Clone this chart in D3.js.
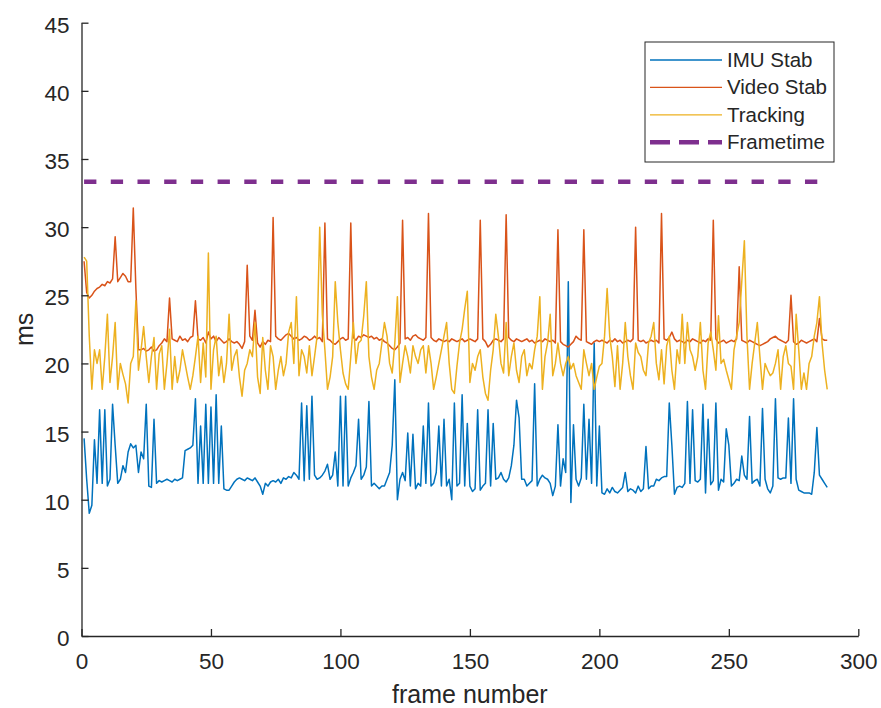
<!DOCTYPE html>
<html>
<head>
<meta charset="utf-8">
<script src="https://cdn.jsdelivr.net/npm/d3@7/dist/d3.min.js"></script>
<style>
  body { margin: 0; background: #fff; }
  #chart { width: 881px; height: 708px; }
  text { font-family: "Liberation Sans", Arial, Helvetica, sans-serif; fill: #262626; }
</style>
</head>
<body>
<div id="chart"></div>
<script>
// frame times per processing step (ms)
var imuStab = [
  14.5, 11.5, 9.0, 9.6, 14.4, 11.2, 16.6, 11.2, 16.6, 11.0,
  11.5, 17.0, 14.0, 11.2, 11.5, 12.5, 12.0, 13.5, 14.1, 13.8,
  14.0, 12.0, 13.5, 13.0, 17.0, 11.0, 10.9, 15.9, 11.2, 11.4,
  11.3, 11.4, 11.5, 11.4, 11.3, 11.5, 11.4, 11.5, 11.6, 13.6,
  13.7, 13.8, 14.0, 17.4, 11.2, 15.4, 11.2, 17.0, 11.2, 16.8,
  11.2, 17.7, 11.2, 15.4, 10.8, 10.7, 10.7, 11.0, 11.3, 11.5,
  11.6, 11.5, 11.4, 11.6, 11.5, 11.4, 11.6, 11.3, 11.0, 10.4,
  11.2, 11.0, 11.3, 11.4, 11.3, 11.5, 11.2, 11.6, 11.5, 11.7,
  11.6, 12.0, 11.8, 11.5, 17.1, 11.4, 16.9, 11.5, 17.6, 11.8,
  11.5, 11.6, 11.8, 12.1, 12.6, 11.5, 11.8, 13.5, 11.0, 17.6,
  11.0, 17.6, 11.0, 11.6, 12.0, 12.5, 15.9, 11.5, 11.8, 12.4,
  17.2, 11.0, 11.2, 11.0, 10.8, 11.0, 11.0, 11.5, 12.0, 14.0,
  18.8, 10.0, 11.5, 12.0, 11.4, 14.9, 11.0, 14.8, 10.8, 11.2,
  11.0, 15.4, 11.2, 17.1, 11.0, 11.2, 12.0, 15.4, 11.0, 15.9,
  11.0, 11.5, 10.0, 17.1, 11.0, 11.2, 17.7, 11.0, 15.6, 11.0,
  10.6, 10.8, 16.6, 10.7, 11.0, 11.2, 16.6, 11.0, 15.6, 11.5,
  11.6, 12.0, 11.5, 11.3, 11.6, 12.5, 14.0, 17.3, 16.0, 11.5,
  11.5, 11.0, 11.2, 11.4, 18.5, 11.0, 11.5, 11.8, 11.6, 11.5,
  11.2, 10.3, 11.0, 15.5, 11.0, 13.0, 12.0, 26.0, 9.8, 15.5,
  11.5, 11.0, 11.6, 17.0, 11.5, 15.9, 11.2, 21.5, 11.0, 15.4,
  10.5, 10.4, 10.8, 10.5, 10.9, 10.6, 10.5, 10.7, 10.9, 12.0,
  10.6, 10.8, 10.7, 10.5, 11.0, 10.6, 10.8, 13.9, 10.8, 11.0,
  11.0, 11.5, 11.4, 11.6, 11.7, 11.7, 17.1, 14.0, 10.4, 10.9,
  11.0, 10.9, 11.2, 17.2, 11.2, 16.6, 11.4, 11.3, 11.5, 17.0,
  10.5, 15.9, 11.1, 11.4, 17.1, 10.7, 11.5, 11.3, 15.2, 14.0,
  11.0, 11.2, 11.5, 11.4, 13.2, 11.8, 11.5, 16.1, 11.2, 11.4,
  11.5, 11.0, 16.7, 11.5, 10.8, 10.5, 11.0, 17.4, 11.6, 11.5,
  11.6, 11.6, 16.0, 11.2, 17.4, 11.5, 10.7, 10.6, 10.5, 10.5,
  10.5, 10.4, 12.0, 15.3, 11.8, 11.5, 11.2, 10.9
];

var videoStab = [
  27.5, 25.2, 24.8, 25.0, 25.3, 25.5, 25.6, 25.8, 25.7, 26.0,
  25.9, 26.2, 29.3, 26.0, 26.3, 26.6, 26.4, 26.0, 26.0, 31.4,
  25.5, 21.0, 21.0, 21.1, 20.9, 21.0, 21.2, 20.9, 21.0, 21.3,
  21.5, 21.8, 21.6, 24.8, 21.8, 21.7, 21.6, 22.0, 21.7, 21.8,
  21.6, 21.9, 22.0, 24.6, 21.8, 21.7, 21.9, 21.5, 22.3, 21.8,
  22.0, 21.6, 21.9, 21.7, 21.5, 21.6, 21.8, 21.6, 21.5, 21.6,
  21.4, 21.1, 21.6, 27.2, 22.0, 21.7, 23.9, 21.5, 21.2, 21.6,
  21.4, 21.7, 21.6, 30.7, 22.0, 21.8, 21.7, 21.9, 22.1, 22.2,
  22.0, 21.8, 21.9, 21.7, 21.8, 22.0, 21.9, 21.7, 21.8, 22.0,
  21.8, 21.9, 21.6, 30.3, 21.8, 21.7, 21.5, 21.4, 21.6, 21.8,
  21.9, 21.7, 21.8, 30.3, 21.9, 21.7, 22.0, 21.9, 22.1, 22.0,
  21.9, 22.0, 21.8, 21.9, 21.7, 21.8, 21.6, 21.5, 21.3, 21.1,
  21.0, 21.2, 21.5, 30.5, 21.8, 21.9, 21.7, 22.0, 22.1, 21.9,
  21.8, 21.7, 21.9, 31.0, 21.9, 21.7, 21.6, 21.8, 21.7, 21.6,
  21.7, 21.6, 21.8, 21.7, 21.6, 21.7, 21.8, 21.6, 21.7, 21.8,
  21.7, 21.6, 21.8, 30.5, 21.8, 21.6, 21.2, 21.4, 21.7, 21.8,
  21.7, 21.6, 21.8, 30.9, 21.9, 21.7, 21.6, 21.8, 21.7, 21.6,
  21.7, 21.8, 21.6, 21.7, 21.5, 21.6, 21.7, 21.6, 21.8, 21.7,
  21.6, 21.7, 21.5, 29.8, 21.6, 21.4, 21.3, 21.2, 21.4, 21.6,
  22.0, 21.8, 21.7, 29.8, 21.6, 21.5, 21.4, 21.6, 21.7, 21.6,
  21.7, 21.6, 21.5, 21.7, 21.6, 21.8, 21.6, 21.7, 21.5, 21.6,
  21.7, 21.6, 21.8, 30.0, 21.7, 21.6, 21.7, 21.5, 21.6, 21.7,
  21.6, 21.7, 21.5, 31.0, 21.8, 21.7, 21.9, 22.3, 21.8, 21.6,
  21.7, 21.6, 21.5, 21.7, 21.6, 21.8, 21.7, 21.6, 21.5, 21.7,
  21.6, 21.8, 21.7, 30.5, 21.8, 21.5, 21.6, 21.7, 21.5, 21.6,
  21.7, 21.6, 21.8, 27.1, 21.7, 21.6, 21.5, 21.7, 21.6, 21.5,
  21.4, 21.3, 21.4, 21.5, 21.6, 21.8, 21.9, 22.0, 21.8, 21.7,
  21.6, 21.5, 21.7, 25.0, 21.6, 21.4, 21.5, 21.7, 21.6, 21.5,
  21.6, 21.7, 21.8, 21.6, 23.3, 21.8, 21.7, 21.7
];

var tracking = [
  27.8, 27.5, 22.0, 18.1, 21.0, 20.0, 21.0, 18.1, 20.5, 23.6,
  18.6, 20.5, 23.0, 18.1, 20.0, 19.2, 18.5, 17.1, 20.0, 20.5,
  24.6, 19.5, 21.0, 22.7, 20.5, 18.6, 20.5, 21.9, 18.1, 20.7,
  21.3, 18.1, 20.0, 22.5, 18.1, 20.5, 18.6, 19.5, 21.0, 20.0,
  19.0, 18.1, 19.1, 20.5, 22.0, 18.6, 21.5, 19.0, 28.1, 18.1,
  21.0, 22.0, 19.1, 20.5, 18.6, 20.0, 23.6, 19.5, 20.5, 21.0,
  19.0, 17.6, 19.5, 20.0, 21.0, 20.5, 23.0, 19.0, 17.8, 21.9,
  19.5, 18.1, 21.3, 20.5, 18.1, 19.5, 20.5, 19.1, 20.0, 22.3,
  23.0, 20.0, 24.9, 19.1, 21.0, 20.5, 19.3, 21.3, 19.1, 20.5,
  22.0, 30.0, 23.6, 21.0, 18.1, 19.0, 20.5, 26.0, 23.0, 21.0,
  19.3, 18.5, 18.1, 20.5, 23.0, 20.0, 21.5, 21.7, 23.5, 26.0,
  20.5, 19.0, 18.1, 19.5, 20.0, 21.5, 23.0, 22.0, 20.0, 19.3,
  21.5, 24.9, 18.6, 20.0, 21.3, 20.5, 19.3, 21.3, 20.5, 20.0,
  21.0, 21.3, 19.3, 21.3, 20.0, 18.1, 19.0, 20.0, 21.0, 22.0,
  23.0, 20.0, 18.1, 17.8, 19.8, 21.5, 22.5, 24.0, 25.3, 18.6,
  20.0, 19.5, 20.5, 21.0, 19.0, 17.8, 17.3, 19.5, 21.0, 23.6,
  22.0, 20.0, 19.3, 23.0, 19.1, 20.5, 21.5, 19.5, 18.6, 20.5,
  21.0, 19.1, 20.0, 19.6, 21.0, 22.0, 24.9, 18.1, 20.5, 21.5,
  23.6, 19.1, 20.0, 21.5, 20.0, 19.1, 20.0, 20.5, 19.6, 20.0,
  19.1, 18.6, 18.1, 21.0, 20.0, 19.1, 20.0, 18.1, 19.0, 19.8,
  20.0, 22.0, 25.5, 22.0, 20.5, 18.3, 21.3, 18.1, 20.0, 23.0,
  20.5, 19.1, 18.1, 21.5, 20.8, 20.5, 19.5, 19.1, 21.5, 22.0,
  23.0, 20.0, 18.8, 21.0, 18.5, 21.3, 22.0, 19.5, 18.1, 21.0,
  20.0, 23.6, 20.0, 23.0, 21.0, 20.5, 19.5, 20.5, 23.0, 19.5,
  18.1, 21.5, 22.3, 21.0, 19.5, 23.5, 20.0, 20.3, 19.5, 18.8,
  18.1, 21.0, 22.0, 23.0, 26.0, 29.0, 22.0, 18.1, 20.0, 21.5,
  23.0, 20.5, 18.1, 20.0, 19.5, 19.1, 19.3, 20.0, 21.0, 18.1,
  20.5, 21.3, 20.0, 19.8, 18.1, 23.6, 21.0, 18.1, 19.3, 18.1,
  20.0, 20.5, 22.0, 23.0, 24.9, 21.5, 19.5, 18.1
];

var frametimeMs = 33.33;   // 30 fps budget
var frames = d3.range(1, imuStab.length + 1);

var seriesNames = ["IMU Stab", "Video Stab", "Tracking", "Frametime"];
var seriesColors = ["#0072BD", "#D95319", "#EDB120", "#7E2F8E"];
var xTicks = [0, 50, 100, 150, 200, 250, 300];
var yTicks = [0, 5, 10, 15, 20, 25, 30, 35, 40, 45];

var width = 881, height = 708;
var svg = d3.select("#chart").append("svg")
    .attr("width", width)
    .attr("height", height);

var x = d3.scaleLinear().domain([0, 300]).range([81.5, 858.3]);
var y = d3.scaleLinear().domain([0, 45]).range([636, 22.7]);

var line = d3.line()
    .x(function(d, i) { return x(frames[i]); })
    .y(function(d) { return y(d); });

// data lines, same order as matlab drew them
[imuStab, videoStab, tracking].forEach(function(s, k) {
  svg.append("path")
     .datum(s)
     .attr("d", line)
     .attr("fill", "none")
     .attr("stroke", seriesColors[k])
     .attr("stroke-width", 1.5)
     .attr("stroke-linejoin", "round");
});

svg.append("path")
   .datum(frames)
   .attr("d", d3.line()
       .x(function(d) { return x(d); })
       .y(function() { return y(frametimeMs); }))
   .attr("fill", "none")
   .attr("stroke", seriesColors[3])
   .attr("stroke-width", 4.5)
   .attr("stroke-dasharray", "12.3,14.4");

// axes (ticks point inward, no box)
var xAxis = d3.axisBottom(x).tickValues(xTicks).tickSizeInner(-7).tickSizeOuter(0).tickPadding(17.5);
var yAxis = d3.axisLeft(y).tickValues(yTicks).tickSizeInner(-7).tickSizeOuter(0).tickPadding(12);

function styleAxis(g) {
  g.select(".domain").attr("stroke", "#262626").attr("stroke-width", 1.3);
  g.selectAll(".tick line").attr("stroke", "#262626").attr("stroke-width", 1.3);
  g.selectAll(".tick text").attr("fill", "#262626").style("font-size", "22.5px");
  g.attr("font-family", null).attr("font-size", null);
}

svg.append("g")
   .attr("transform", "translate(0," + y(0) + ")")
   .call(xAxis)
   .call(styleAxis);

svg.append("g")
   .attr("transform", "translate(" + x(0) + ",0)")
   .call(yAxis)
   .call(styleAxis)
   .selectAll(".tick text").attr("dy", "0.42em");

svg.append("text")
   .attr("x", (x(0) + x(300)) / 2)
   .attr("y", 703)
   .attr("text-anchor", "middle")
   .style("font-size", "25px")
   .text("frame number");

svg.append("text")
   .attr("transform", "translate(33," + (y(0) + y(45)) / 2 + ") rotate(-90)")
   .attr("text-anchor", "middle")
   .style("font-size", "25px")
   .text("ms");

// legend
var legend = svg.append("g").attr("transform", "translate(645,42)");
legend.append("rect")
   .attr("x", 0).attr("y", 0)
   .attr("width", 189).attr("height", 120)
   .attr("fill", "#fff")
   .attr("stroke", "#262626")
   .attr("stroke-width", 1);

seriesNames.forEach(function(name, i) {
  var ly = 18 + i * 27.4;
  legend.append("line")
     .attr("x1", 5).attr("x2", 77)
     .attr("y1", ly).attr("y2", ly)
     .attr("stroke", seriesColors[i])
     .attr("stroke-width", i == 3 ? 4.5 : 1.3)
     .attr("stroke-dasharray", i == 3 ? "20,9" : null);
  legend.append("text")
     .attr("x", 82)
     .attr("y", ly + 6.8)
     .style("font-size", "20.5px")
     .text(name);
});
</script>
</body>
</html>
